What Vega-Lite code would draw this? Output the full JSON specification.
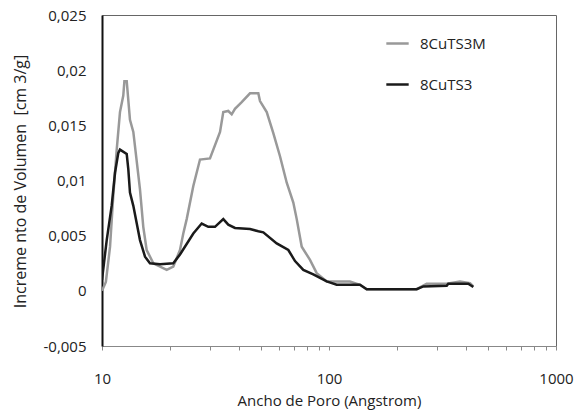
{
  "$schema": "https://vega.github.io/schema/vega-lite/v6.json",
  "width": 454,
  "height": 331,
  "autosize": "none",
  "padding": {"left": 102, "top": 15, "right": 18, "bottom": 64},
  "background": "white",
  "config": {
    "view": {"stroke": "#666666", "strokeWidth": 1},
    "font": "Open Sans"
  },
  "data": {
    "values": [
      {"s": "8CuTS3M", "x": 10.0, "y": 0.0},
      {"s": "8CuTS3M", "x": 10.4, "y": 0.0008},
      {"s": "8CuTS3M", "x": 10.85, "y": 0.004},
      {"s": "8CuTS3M", "x": 11.2, "y": 0.0085},
      {"s": "8CuTS3M", "x": 11.61, "y": 0.0128},
      {"s": "8CuTS3M", "x": 12.0, "y": 0.0162},
      {"s": "8CuTS3M", "x": 12.41, "y": 0.0177},
      {"s": "8CuTS3M", "x": 12.55, "y": 0.019},
      {"s": "8CuTS3M", "x": 12.85, "y": 0.019},
      {"s": "8CuTS3M", "x": 13.28, "y": 0.0155},
      {"s": "8CuTS3M", "x": 13.74, "y": 0.0144},
      {"s": "8CuTS3M", "x": 14.7, "y": 0.0092},
      {"s": "8CuTS3M", "x": 15.2, "y": 0.0058},
      {"s": "8CuTS3M", "x": 15.73, "y": 0.0037},
      {"s": "8CuTS3M", "x": 16.83, "y": 0.0025},
      {"s": "8CuTS3M", "x": 19.28, "y": 0.0019},
      {"s": "8CuTS3M", "x": 20.61, "y": 0.0022},
      {"s": "8CuTS3M", "x": 22.06, "y": 0.0037},
      {"s": "8CuTS3M", "x": 22.81, "y": 0.0052},
      {"s": "8CuTS3M", "x": 23.61, "y": 0.0065},
      {"s": "8CuTS3M", "x": 25.25, "y": 0.0095},
      {"s": "8CuTS3M", "x": 27.02, "y": 0.0119},
      {"s": "8CuTS3M", "x": 29.9, "y": 0.012},
      {"s": "8CuTS3M", "x": 33.11, "y": 0.0144},
      {"s": "8CuTS3M", "x": 34.22, "y": 0.0162},
      {"s": "8CuTS3M", "x": 36.0, "y": 0.0163},
      {"s": "8CuTS3M", "x": 37.27, "y": 0.016},
      {"s": "8CuTS3M", "x": 38.53, "y": 0.0165},
      {"s": "8CuTS3M", "x": 41.25, "y": 0.0171},
      {"s": "8CuTS3M", "x": 44.87, "y": 0.0179},
      {"s": "8CuTS3M", "x": 48.82, "y": 0.0179},
      {"s": "8CuTS3M", "x": 49.66, "y": 0.0172},
      {"s": "8CuTS3M", "x": 53.17, "y": 0.0162},
      {"s": "8CuTS3M", "x": 56.84, "y": 0.0143},
      {"s": "8CuTS3M", "x": 60.83, "y": 0.0122},
      {"s": "8CuTS3M", "x": 65.13, "y": 0.0098},
      {"s": "8CuTS3M", "x": 69.63, "y": 0.008},
      {"s": "8CuTS3M", "x": 72.08, "y": 0.0065},
      {"s": "8CuTS3M", "x": 75.83, "y": 0.004},
      {"s": "8CuTS3M", "x": 82.47, "y": 0.0028},
      {"s": "8CuTS3M", "x": 88.27, "y": 0.0016},
      {"s": "8CuTS3M", "x": 97.7, "y": 0.00085},
      {"s": "8CuTS3M", "x": 123.7, "y": 0.00085},
      {"s": "8CuTS3M", "x": 136.9, "y": 0.00055},
      {"s": "8CuTS3M", "x": 146.6, "y": 0.00015},
      {"s": "8CuTS3M", "x": 243.4, "y": 0.00015},
      {"s": "8CuTS3M", "x": 269.4, "y": 0.00064},
      {"s": "8CuTS3M", "x": 330.0, "y": 0.00064},
      {"s": "8CuTS3M", "x": 377.6, "y": 0.00085},
      {"s": "8CuTS3M", "x": 417.9, "y": 0.0007},
      {"s": "8CuTS3M", "x": 432.2, "y": 0.0004},
      {"s": "8CuTS3", "x": 10.0, "y": 0.001},
      {"s": "8CuTS3", "x": 10.49, "y": 0.0046},
      {"s": "8CuTS3", "x": 11.03, "y": 0.0077},
      {"s": "8CuTS3", "x": 11.41, "y": 0.0107},
      {"s": "8CuTS3", "x": 11.8, "y": 0.0125},
      {"s": "8CuTS3", "x": 12.0, "y": 0.0128},
      {"s": "8CuTS3", "x": 12.85, "y": 0.0124},
      {"s": "8CuTS3", "x": 13.06, "y": 0.011},
      {"s": "8CuTS3", "x": 13.28, "y": 0.0089},
      {"s": "8CuTS3", "x": 13.74, "y": 0.0077},
      {"s": "8CuTS3", "x": 14.7, "y": 0.0046},
      {"s": "8CuTS3", "x": 15.47, "y": 0.0031},
      {"s": "8CuTS3", "x": 16.27, "y": 0.0025},
      {"s": "8CuTS3", "x": 18.01, "y": 0.0024},
      {"s": "8CuTS3", "x": 20.61, "y": 0.0025},
      {"s": "8CuTS3", "x": 22.06, "y": 0.0033},
      {"s": "8CuTS3", "x": 25.25, "y": 0.0052},
      {"s": "8CuTS3", "x": 27.49, "y": 0.0061},
      {"s": "8CuTS3", "x": 29.39, "y": 0.0058},
      {"s": "8CuTS3", "x": 31.46, "y": 0.0058},
      {"s": "8CuTS3", "x": 34.22, "y": 0.0065},
      {"s": "8CuTS3", "x": 36.0, "y": 0.006},
      {"s": "8CuTS3", "x": 38.53, "y": 0.0057},
      {"s": "8CuTS3", "x": 44.87, "y": 0.0056},
      {"s": "8CuTS3", "x": 48.82, "y": 0.0054},
      {"s": "8CuTS3", "x": 51.36, "y": 0.0053},
      {"s": "8CuTS3", "x": 58.84, "y": 0.0043},
      {"s": "8CuTS3", "x": 66.19, "y": 0.0037},
      {"s": "8CuTS3", "x": 70.85, "y": 0.0027},
      {"s": "8CuTS3", "x": 77.07, "y": 0.0019},
      {"s": "8CuTS3", "x": 85.27, "y": 0.0015},
      {"s": "8CuTS3", "x": 97.7, "y": 0.00085},
      {"s": "8CuTS3", "x": 108.1, "y": 0.00055},
      {"s": "8CuTS3", "x": 136.9, "y": 0.00055},
      {"s": "8CuTS3", "x": 146.6, "y": 0.00015},
      {"s": "8CuTS3", "x": 243.4, "y": 0.00015},
      {"s": "8CuTS3", "x": 260.3, "y": 0.0004},
      {"s": "8CuTS3", "x": 330.0, "y": 0.00045},
      {"s": "8CuTS3", "x": 335.4, "y": 0.00064},
      {"s": "8CuTS3", "x": 410.8, "y": 0.00064},
      {"s": "8CuTS3", "x": 432.2, "y": 0.00034}
    ]
  },
  "mark": {"type": "line", "strokeWidth": 2.5, "clip": true},
  "encoding": {
    "x": {
      "field": "x",
      "type": "quantitative",
      "scale": {"type": "log", "domain": [10, 1000], "nice": false},
      "axis": {
        "title": "Ancho de Poro (Angstrom)",
        "values": [10, 20, 30, 40, 50, 60, 70, 80, 90, 100, 200, 300, 400, 500, 600, 700, 800, 900, 1000],
        "format": "d",
        "labelExpr": "datum.value == 10 || datum.value == 100 || datum.value == 1000 ? datum.label : ''",
        "grid": false,
        "domainColor": "#888888",
        "tickColor": "#888888",
        "tickSize": 4,
        "labelPadding": 21,
        "labelFontSize": 15,
        "labelColor": "#222222",
        "labelFlush": false,
        "titleFontSize": 15,
        "titleFontWeight": "normal",
        "titleColor": "#222222",
        "titleY": 54,
        "titleBaseline": "middle"
      }
    },
    "y": {
      "field": "y",
      "type": "quantitative",
      "scale": {"domain": [-0.005, 0.025], "nice": false, "zero": false},
      "axis": {
        "title": "Increme nto de Volumen\u00a0 [cm 3/g]",
        "values": [-0.005, 0, 0.005, 0.01, 0.015, 0.02, 0.025],
        "format": ".3~f",
        "labelExpr": "replace(replace(datum.label, '.', ','), '−', '-')",
        "grid": false,
        "ticks": false,
        "domainColor": "#111111",
        "domainWidth": 2,
        "labelPadding": 16,
        "labelFontSize": 15,
        "labelColor": "#222222",
        "titleFontSize": 16,
        "titleFontWeight": "normal",
        "titleColor": "#222222",
        "titleX": -82,
        "titleY": 166,
        "titleAlign": "center",
        "titleBaseline": "middle"
      }
    },
    "color": {
      "field": "s",
      "type": "nominal",
      "scale": {"domain": ["8CuTS3M", "8CuTS3"], "range": ["#999999", "#1a1a1a"]},
      "legend": {
        "title": null,
        "orient": "none",
        "legendX": 283,
        "legendY": 16,
        "symbolType": "stroke",
        "symbolSize": 500,
        "symbolStrokeWidth": 2.5,
        "labelFontSize": 15,
        "labelColor": "#222222",
        "rowPadding": 20,
        "labelOffset": 10
      }
    }
  }
}
